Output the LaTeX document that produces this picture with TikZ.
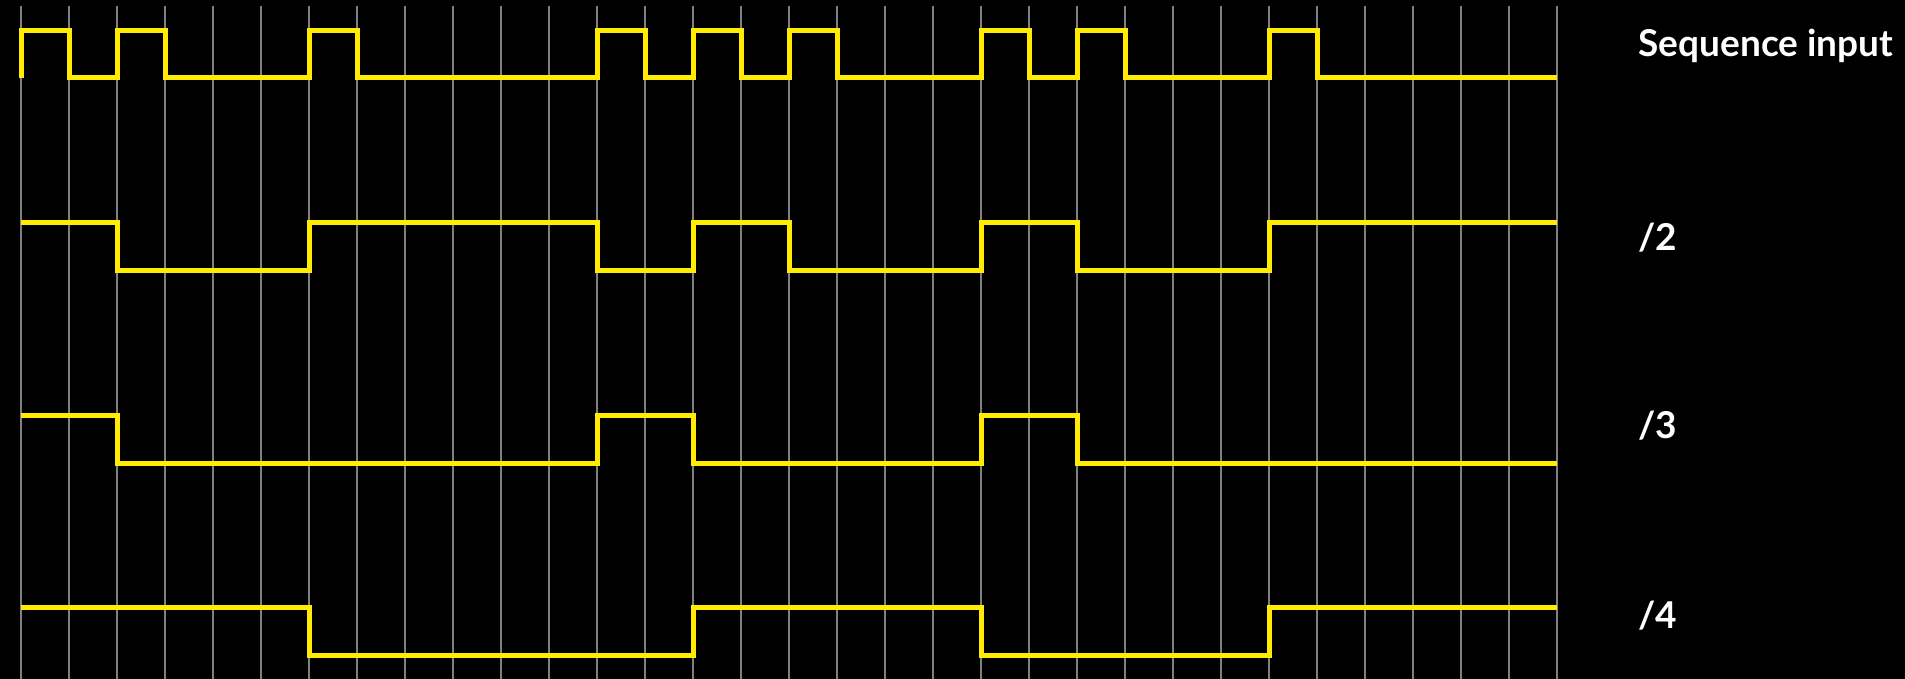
\documentclass[tikz,border=0pt]{standalone}
\usepackage{fontspec}
\newfontfamily\labelfont{Lato}
\usetikzlibrary{positioning}
\definecolor{sigyellow}{RGB}{255,236,0}
\definecolor{gridgray}{RGB}{128,128,128}

\begin{document}
\begin{tikzpicture}[x=24pt, y=-0.5pt]
\tikzstyle{wave} = [sigyellow, line width=2.5pt, miter limit=10]
\tikzstyle{gridline} = [gridgray, line width=0.8pt]
\tikzstyle{sigtext} = [text=white, font=\labelfont\bfseries\fontsize{18.5}{22}\selectfont, anchor=base west, inner sep=0pt]

\fill [black] (-0.4375,0) rectangle (39.25,679);
\useasboundingbox (-0.4375,0) rectangle (39.25,679);

\foreach \i in {0,...,32}
  \draw [gridline] (\i,6) -- (\i,679);

% input pulses
\draw [wave] (0,78) -- (0,31) -- (1,31) -- (1,78)
  \foreach \p in {2,6,12,14,16,20,22,26} { -- (\p,78) -- (\p,31) -- (\p+1,31) -- (\p+1,78) } -- (32,78);

% divided outputs
\draw [wave] (0,223) -- (2,223) -- (2,271) -- (6,271) -- (6,223) -- (12,223) -- (12,271) -- (14,271) -- (14,223)
  -- (16,223) -- (16,271) -- (20,271) -- (20,223) -- (22,223) -- (22,271) -- (26,271) -- (26,223) -- (32,223);
\draw [wave] (0,415) -- (2,415) -- (2,463) -- (12,463) -- (12,415) -- (14,415) -- (14,463) -- (20,463) -- (20,415)
  -- (22,415) -- (22,463) -- (32,463);
\draw [wave] (0,607) -- (6,607) -- (6,655) -- (14,655) -- (14,607) -- (20,607) -- (20,655) -- (26,655) -- (26,607) -- (32,607);

\node [sigtext] (seq) at (33.69,57) {Sequence input};
\node [sigtext] (div2) at (33.69,250) {/2};
\node [sigtext] (div3) at (33.69,438) {/3};
\node [sigtext] (div4) at (33.69,628) {/4};
\end{tikzpicture}
\end{document}
